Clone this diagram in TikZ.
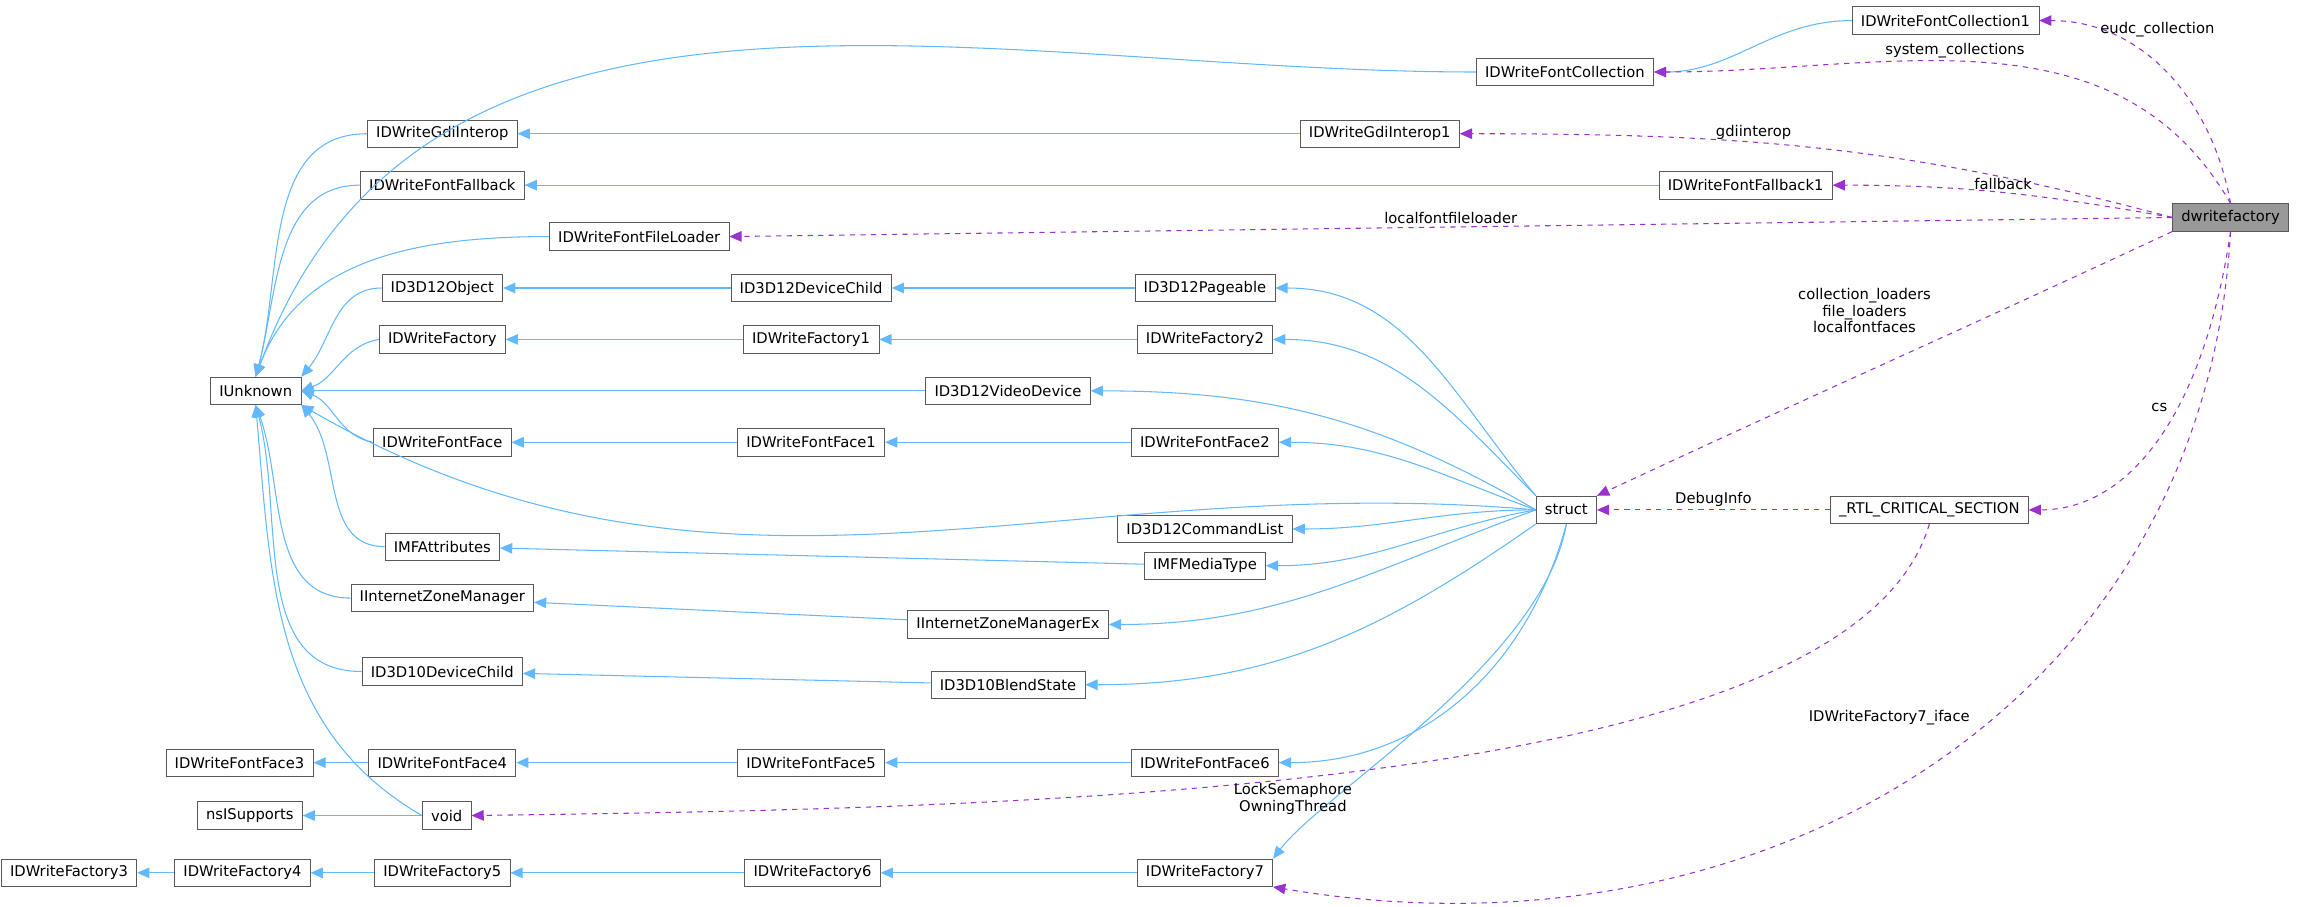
\documentclass[tikz,border=0pt]{standalone}
\usepackage{fontspec}
\setmainfont{DejaVu Sans}
\usetikzlibrary{arrows.meta}
\definecolor{inh}{HTML}{63B8FF}
\definecolor{use}{HTML}{9A32CD}
\tikzset{
  cls/.style={draw=black!65, fill=white, font=\fontsize{8.4}{10}\selectfont, inner xsep=5pt, inner ysep=0pt, minimum height=0.55cm},
  base/.style={draw=inh, semithick, -{Triangle[length=7pt,width=6pt]}},
  mem/.style={draw=use, semithick, dashed, -{Triangle[length=7pt,width=6pt]}},
  lbl/.style={font=\fontsize{8.4}{9.5}\selectfont, align=center, inner sep=1.5pt}
}
\begin{document}
\begin{tikzpicture}[x=0.0294cm, y=-0.0294cm]
      \useasboundingbox (0,0) rectangle (1568,617);

      % classes
      \node[cls] (fc1) at (1324,14) {IDWriteFontCollection1};
      \node[cls] (fc) at (1065,49) {IDWriteFontCollection};
      \node[cls] (gdi) at (301,91) {IDWriteGdiInterop};
      \node[cls] (gdi1) at (939,91) {IDWriteGdiInterop1};
      \node[cls] (fb) at (301,126) {IDWriteFontFallback};
      \node[cls] (fb1) at (1188,126) {IDWriteFontFallback1};
      \node[cls, fill=black!40] (dwf) at (1518,148) {dwritefactory};
      \node[cls] (ffl) at (435,161) {IDWriteFontFileLoader};
      \node[cls] (d3obj) at (301,196) {ID3D12Object};
      \node[cls] (d3dc) at (552,196) {ID3D12DeviceChild};
      \node[cls] (d3pg) at (820,196) {ID3D12Pageable};
      \node[cls] (f0) at (301,231) {IDWriteFactory};
      \node[cls] (f1) at (552,231) {IDWriteFactory1};
      \node[cls] (f2) at (820,231) {IDWriteFactory2};
      \node[cls] (unk) at (174,266) {IUnknown};
      \node[cls] (vdev) at (686,266) {ID3D12VideoDevice};
      \node[cls] (ff0) at (301,301) {IDWriteFontFace};
      \node[cls] (ff1) at (552,301) {IDWriteFontFace1};
      \node[cls] (ff2) at (820,301) {IDWriteFontFace2};
      \node[cls] (st) at (1066,347) {struct};
      \node[cls] (rtl) at (1313,347) {\_RTL\_CRITICAL\_SECTION};
      \node[cls] (cmdl) at (820,360) {ID3D12CommandList};
      \node[cls] (mfa) at (301,372) {IMFAttributes};
      \node[cls] (mft) at (820,385) {IMFMediaType};
      \node[cls] (izm) at (301,407) {IInternetZoneManager};
      \node[cls] (izmx) at (686,425) {IInternetZoneManagerEx};
      \node[cls] (d10) at (301,457) {ID3D10DeviceChild};
      \node[cls] (d10b) at (686,466) {ID3D10BlendState};
      \node[cls] (ff3) at (163,519) {IDWriteFontFace3};
      \node[cls] (ff4) at (301,519) {IDWriteFontFace4};
      \node[cls] (ff5) at (552,519) {IDWriteFontFace5};
      \node[cls] (ff6) at (820,519) {IDWriteFontFace6};
      \node[cls] (nss) at (170,555) {nsISupports};
      \node[cls] (vd) at (304,555) {void};
      \node[cls] (f3) at (47,594) {IDWriteFactory3};
      \node[cls] (f4) at (165,594) {IDWriteFactory4};
      \node[cls] (f5) at (301,594) {IDWriteFactory5};
      \node[cls] (f6) at (553,594) {IDWriteFactory6};
      \node[cls] (f7) at (820,594) {IDWriteFactory7};

      % inheritance
      \draw[base] (fc.west) to[out=180,in=70] (unk.north);
      \draw[base] (fc1.west) to[out=180,in=0] (fc.east);
      \draw[base] (gdi.west) to[out=180,in=75] (unk.north);
      \draw[base] (gdi1) -- (gdi);
      \draw[base] (fb.west) to[out=180,in=75] (unk.north);
      \draw[base] (fb1) -- (fb);
      \draw[base] (ffl.west) to[out=180,in=70] (unk.north);
      \draw[base] (d3obj.west) to[out=180,in=50] (unk.north east);
      \draw[base] (d3dc) -- (d3obj);
      \draw[base] (d3pg) -- (d3dc);
      \draw[base] (f0.west) to[out=190,in=20] (unk.east);
      \draw[base] (f1) -- (f0);
      \draw[base] (f2) -- (f1);
      \draw[base] (vdev) -- (unk);
      \draw[base] (ff0.west) to[out=170,in=-20] (unk.east);
      \draw[base] (ff1) -- (ff0);
      \draw[base] (ff2) -- (ff1);
      \draw[base] (st.west) to[out=175,in=-30] (unk.south east);
      \draw[base] (mfa.west) to[out=180,in=-50] (unk.south east);
      \draw[base] (izm.west) to[out=180,in=-70] (unk.south);
      \draw[base] (d10.west) to[out=180,in=-75] (unk.south);
      \draw[base] (vd.west) to[out=150,in=-85] (unk.south);
      \draw[base] (mft) -- (mfa);
      \draw[base] (izmx) -- (izm);
      \draw[base] (d10b) -- (d10);
      \draw[base] (ff4) -- (ff3);
      \draw[base] (ff5) -- (ff4);
      \draw[base] (ff6) -- (ff5);
      \draw[base] (vd) -- (nss);
      \draw[base] (f4) -- (f3);
      \draw[base] (f5) -- (f4);
      \draw[base] (f6) -- (f5);
      \draw[base] (f7) -- (f6);
      \draw[base] (st.north west) to[out=130,in=0] (d3pg.east);
      \draw[base] (st.north west) to[out=135,in=0] (f2.east);
      \draw[base] (st.west) to[out=150,in=0] (vdev.east);
      \draw[base] (st.west) to[out=160,in=0] (ff2.east);
      \draw[base] (st.west) to[out=180,in=0] (cmdl.east);
      \draw[base] (st.west) to[out=190,in=0] (mft.east);
      \draw[base] (st.west) to[out=200,in=0] (izmx.east);
      \draw[base] (st.south west) to[out=215,in=0] (d10b.east);
      \draw[base] (st.south) to[out=255,in=0] (ff6.east);
      \draw[base] (st.south) .. controls (1050,450) and (900,540) .. (f7.north east);

      % members
      \draw[mem] (dwf.north) to[out=100,in=0] node[lbl, pos=0.8, right] {eudc\_collection} (fc1.east);
      \draw[mem] (dwf.north) to[out=120,in=0] node[lbl, pos=0.55, above] {system\_collections} (fc.east);
      \draw[mem] (dwf.west) to[out=165,in=0] node[lbl, pos=0.6, above] {gdiinterop} (gdi1.east);
      \draw[mem] (dwf.west) to[out=170,in=0] node[lbl, pos=0.5, above] {fallback} (fb1.east);
      \draw[mem] (dwf.west) -- node[lbl, pos=0.5, above] {localfontfileloader} (ffl.east);
      \draw[mem] (dwf.south west) to[out=205,in=25] node[lbl, pos=0.4, above left=2pt] {collection\_loaders\\file\_loaders\\localfontfaces} (st.north east);
      \draw[mem] (dwf.south) .. controls (1500,280) and (1450,347) .. node[lbl, pos=0.4, left=4pt] {cs} (rtl.east);
      \draw[mem] (dwf.south) .. controls (1500,480) and (1200,660) .. node[lbl, pos=0.45, above left=2pt] {IDWriteFactory7\_iface} (f7.south east);
      \draw[mem] (rtl.west) -- node[lbl, above] {DebugInfo} (st.east);
      \draw[mem] (rtl.south) .. controls (1260,540) and (700,550) .. node[lbl, pos=0.55, below=1pt] {LockSemaphore\\OwningThread} (vd.east);
    \end{tikzpicture}
\end{document}
